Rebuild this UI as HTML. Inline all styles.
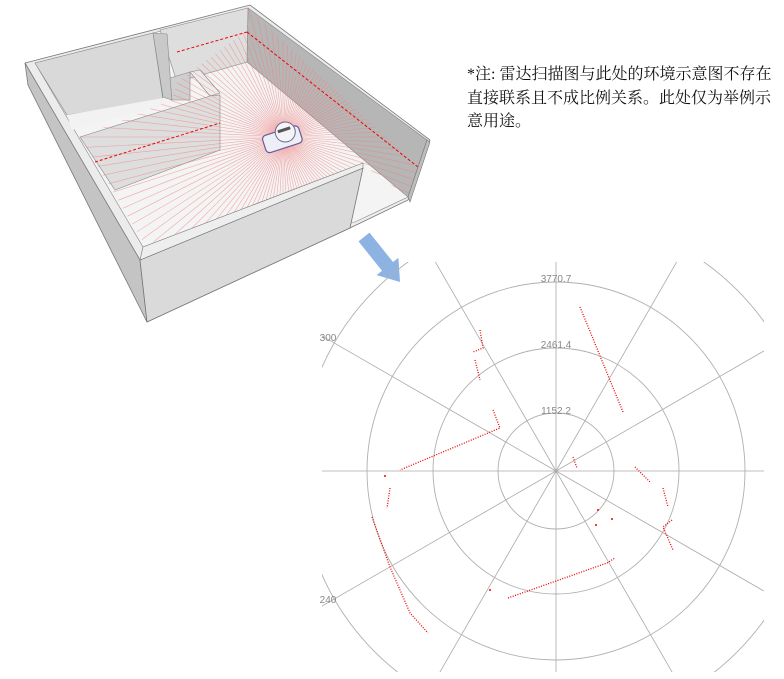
<!DOCTYPE html>
<html><head><meta charset="utf-8"><style>
html,body{margin:0;padding:0;background:#fff;width:784px;height:679px;overflow:hidden;position:relative}
.note{position:absolute;left:467px;top:63px;font-family:"Liberation Serif","Noto Serif CJK SC",serif;font-size:16px;line-height:23.5px;color:#111;white-space:nowrap}
svg{position:absolute;left:0;top:0;display:block}
</style></head><body>
<svg width="784" height="679" viewBox="0 0 784 679">
<defs>
<clipPath id="scan"><polygon points="80,137 172,100 177,82 247,30 248,8 418,167 408,197 363,165 145,245"/></clipPath>
<clipPath id="plot"><rect x="322" y="262" width="442" height="410"/></clipPath>
</defs>
<!-- room -->
<polygon points="25,63 250,5 430,140 408,200 350,228 147,322" fill="#ececec" stroke="#777" stroke-width="0.8"/>
<polygon points="35,63 248,9 427,140 408,197 355,222 143,247" fill="#f4f4f4" stroke="#888" stroke-width="0.6"/>
<polygon points="248,8 427,140 408,197 247,62" fill="#b6b6b6" stroke="#888" stroke-width="0.6"/>
<polygon points="160,30 248,8 247,62 177,82" fill="#dedede" stroke="#888" stroke-width="0.6"/>
<polygon points="35,63 153,33 163,100 67,115" fill="#d9d9d9" stroke="#888" stroke-width="0.6"/>
<polygon points="67,115 163,98 168,104 72,130" fill="#f2f2f2"/>
<polygon points="153,33 167,34 172,100 163,97" fill="#c9c9c9" stroke="#888" stroke-width="0.6"/>
<polygon points="170,78 190,72 190,100 172,100" fill="#cfcfcf" stroke="#888" stroke-width="0.6"/>
<polygon points="190,72 200,70 220,93 210,96" fill="#ececec" stroke="#888" stroke-width="0.6"/>
<polygon points="80,137 210,96 220,95 220,150 115,190" fill="#dedede" stroke="#888" stroke-width="0.6"/>
<g id="rays" clip-path="url(#scan)" stroke="#f08080" stroke-width="0.6" opacity="0.65"></g>
<g stroke="#e00" stroke-width="1" stroke-dasharray="3,2" fill="none">
<line x1="177" y1="52" x2="247" y2="32"/><line x1="247" y1="32" x2="418" y2="167"/><line x1="95" y1="162" x2="220" y2="123"/>
</g>
<polygon points="25,63 140,260 147,322 28,85" fill="#c4c4c4" stroke="#777" stroke-width="0.8"/>
<polygon points="140,260 363,168 350,228 147,322" fill="#dadada" stroke="#777" stroke-width="0.8"/>
<polygon points="140,260 143,247 363,163 363,168" fill="#eeeeee" stroke="#777" stroke-width="0.6"/>
<polygon points="408,197 427,140 430,142 410,202" fill="#bdbdbd" stroke="#777" stroke-width="0.6"/>
<!-- robot -->
<g transform="translate(283,138) rotate(-18)">
<rect x="-20" y="-8" width="38" height="18" rx="4" fill="#eeeef6" stroke="#6a5a9a" stroke-width="1.2"/>
<circle cx="4" cy="-5" r="10" fill="#f4f4f8" stroke="#6a6a8a" stroke-width="1"/>
<rect x="-3" y="-9" width="13" height="3" fill="#555"/>
</g>
<!-- arrow -->
<polygon points="369.5,232.6 358.5,241.4 382,270.8 376.6,275.1 400,282 398.4,257.7 393,262" fill="#8db3e2"/>
<!-- polar -->
<g clip-path="url(#plot)" fill="none">
<g id="spokes" stroke="#aaa" stroke-width="0.8"></g>
<g stroke="#b0b0b0" stroke-width="0.9">
<circle cx="556" cy="471" r="58"/><circle cx="556" cy="471" r="123"/><circle cx="556" cy="471" r="189"/><circle cx="556" cy="471" r="256"/><circle cx="556" cy="471" r="322"/>
</g>
</g>
<g font-family="Liberation Sans,sans-serif" font-size="10" fill="#888" text-anchor="middle">
<text x="556" y="282">3770.7</text><text x="556" y="348">2461.4</text><text x="556" y="414">1152.2</text>
<text x="328" y="341">300</text><text x="328" y="603">240</text>
</g>
<g stroke="#e00" stroke-width="1.3" stroke-dasharray="1,1.5" fill="none">
<polyline points="580,307 623,412"/>
<polyline points="493,410 500,428 400,470"/>
<polyline points="508,598 607,563 615,558"/>
<polyline points="372,517 390,567 410,613 428,633"/>
<polyline points="390,488 387,508"/>
<polyline points="480,330 483,348 473,352"/>
<polyline points="475,360 480,380"/>
<polyline points="663,488 668,507"/>
<polyline points="672,520 663,527 673,550"/>
<polyline points="573,457 577,468"/>
<polyline points="635,467 650,482"/>
</g>
<g fill="#e00"><circle cx="598" cy="510" r="1"/><circle cx="596" cy="525" r="1"/><circle cx="612" cy="519" r="1"/><circle cx="385" cy="476" r="1"/><circle cx="490" cy="590" r="1"/></g>
</svg>
<div class="note">*注: 雷达扫描图与此处的环境示意图不存在<br>直接联系且不成比例关系。此处仅为举例示<br>意用途。</div>
<script>
var ns="http://www.w3.org/2000/svg";
var r=document.getElementById("rays");
for(var i=0;i<120;i++){var a=i*Math.PI*2/120;var l=document.createElementNS(ns,"line");
l.setAttribute("x1",283);l.setAttribute("y1",137);l.setAttribute("x2",283+260*Math.cos(a));l.setAttribute("y2",137+260*Math.sin(a));r.appendChild(l);}
var s=document.getElementById("spokes");
for(var i=0;i<12;i++){var a=i*Math.PI/6;var l=document.createElementNS(ns,"line");
l.setAttribute("x1",556);l.setAttribute("y1",471);l.setAttribute("x2",556+450*Math.cos(a));l.setAttribute("y2",471+450*Math.sin(a));s.appendChild(l);}
</script>
</body></html>
